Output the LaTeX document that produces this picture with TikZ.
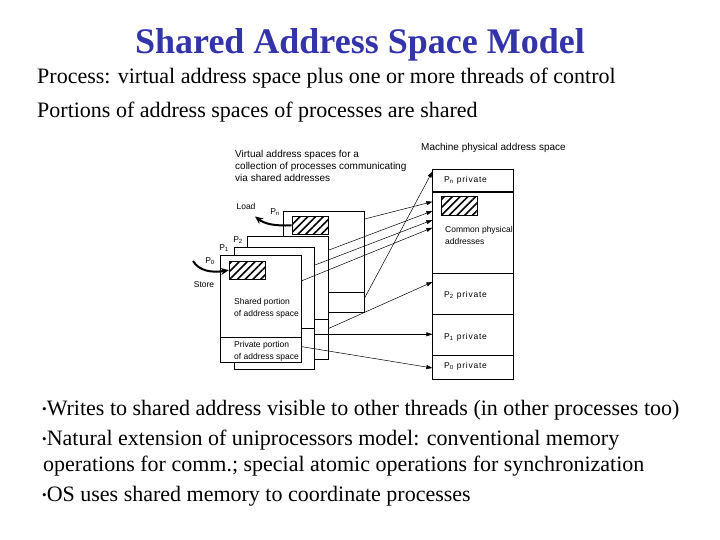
\documentclass[tikz,border=0pt]{standalone}
\usepackage{fontspec}
\setmainfont{Liberation Serif}
\newfontfamily\diagfont{Liberation Sans}
\newfontfamily\widefont[LetterSpace=9]{Liberation Sans}
\usepackage{xcolor}
\usepackage{tikz}
\usetikzlibrary{arrows.meta,positioning,fit,calc,patterns.meta}
\definecolor{titleblue}{RGB}{51,51,170}
\newcommand{\dotmark}{\raisebox{1.5pt}{\fontsize{13}{13}\selectfont\textbullet}}
\tikzset{
  vbox/.style={draw,fill=white,inner sep=0pt,line width=0.6pt},
  mbox/.style={draw,inner sep=0pt,line width=0.6pt},
  hatch/.style={draw,line width=1pt,inner sep=0pt,pattern={Lines[angle=45,distance=5.5pt,line width=1.6pt]}},
  lbl/.style={font=\diagfont\fontsize{8.5}{12}\selectfont,inner sep=0pt,align=left},
  biglbl/.style={font=\diagfont\fontsize{10}{12}\selectfont,inner sep=0pt,align=left,anchor=west},
  privlbl/.style={font=\widefont\fontsize{8.5}{12}\selectfont,inner sep=0pt,anchor=west},
  body/.style={font=\fontsize{22}{26}\selectfont,anchor=base west,inner sep=0pt},
  arr/.style={-{Triangle[length=6pt,width=4pt]},line width=0.5pt},
  bigarr/.style={-{Stealth[length=8pt,width=7pt]},line width=2pt},
}
\begin{document}
\begin{tikzpicture}[x=1pt,y=-1pt]
\useasboundingbox (0,0) rectangle (720,540);
\node[font=\bfseries\fontsize{36}{40}\selectfont,text=titleblue,anchor=base,inner sep=0pt] (title) at (360,54) {Shared Address Space Model};
\node[body] (proc) at (37,84) {Process: virtual address space plus one or more threads of control};
\node[body] (port) at (37,118) {Portions of address spaces of processes are shared};

\node[vbox,fit={(283.3,211)(364.3,312)}] (pn) {};
\draw (pn.west |- 0,292) -- (pn.east |- 0,292);
\node[hatch,fit={(292.5,216.5)(328.5,234.3)}] (pnh) {};
\node[vbox,fit={(247.7,236.5)(328.7,359)}] (p2) {};
\draw (p2.west |- 0,319.3) -- (p2.east |- 0,319.3);
\node[vbox,fit={(234.3,247)(314.7,369)}] (p1) {};
\draw (p1.west |- 0,328.3) -- (p1.east |- 0,328.3);
\node[vbox,fit={(220,255.5)(301.7,362)}] (p0) {};
\draw (p0.west |- 0,337.5) -- (p0.east |- 0,337.5);
\node[hatch,fit={(229.3,261)(265.7,279.3)}] (p0h) {};

\node[mbox,fit={(432.7,169.3)(513,191.7)}] (mpn) {};
\node[mbox,fit={(432.7,191.7)(513,273.3)}] (mcom) {};
\node[mbox,fit={(432.7,273.3)(513,314.3)}] (mp2) {};
\node[mbox,fit={(432.7,314.3)(513,355.3)}] (mp1) {};
\node[mbox,fit={(432.7,355.3)(513,379.3)}] (mp0) {};
\draw[line width=1.5pt] (mpn.south west) -- (mpn.south east);
\node[hatch,fit={(441,196.7)(477.3,216)}] (mh) {};

\node[biglbl] (vtext) at (235,166) {Virtual address spaces for a\\collection of processes communicating\\via shared addresses};
\node[biglbl] (mtext) at (421,148) {Machine physical address space};
\node[lbl] (load) at (246,206) {Load};
\node[lbl] (store) at (204,285) {Store};
\node[lbl] (lpn) at (275,212) {P\textsubscript{n}};
\node[lbl] (lp2) at (238,240) {P\textsubscript{2}};
\node[lbl] (lp1) at (224,248) {P\textsubscript{1}};
\node[lbl] (lp0) at (210,261) {P\textsubscript{0}};
\node[lbl,anchor=west] (shtext) at (234,308.5) {Shared portion\\of address space};
\node[lbl,anchor=west] (prtext) at (234,351) {Private portion\\of address space};
\node[privlbl] (mpnt) at (444,180) {P\textsubscript{n} private};
\node[lbl,anchor=west] (mcomt) at (445,235) {Common physical\\addresses};
\node[privlbl] (mp2t) at (444,295) {P\textsubscript{2} private};
\node[privlbl] (mp1t) at (444,337) {P\textsubscript{1} private};
\node[privlbl] (mp0t) at (444,366) {P\textsubscript{0} private};

\draw[arr] (pn.east |- 0,219) -- (mcom.west |- 0,201.7);
\draw[arr] (p2.east |- 0,250) -- (mcom.west |- 0,211);
\draw[arr] (p1.east |- 0,265) -- (mcom.west |- 0,220);
\draw[arr] (p0.east |- 0,280.7) -- (mcom.west |- 0,227.7);
\draw[arr] (pn.east |- 0,298) -- (mpn.west |- 0,171.5);
\draw[arr] (p2.east |- 0,328.3) -- (mp2.west |- 0,282);
\draw[arr] (p1.east |- 0,334.3) -- (mp1.west |- 0,334.3);
\draw[arr] (p0.east |- 0,346.7) -- (mp0.west |- 0,368);

\coordinate (loadend) at (255,216.5);
\coordinate (storebeg) at (193,261);
\draw[bigarr] (pnh.west) .. controls (274,226) and (265,224) .. (loadend);
\draw[bigarr] (storebeg) .. controls (199,271) and (212,273) .. (p0h.west);

\node[body] (b1) at (42,415) {\dotmark Writes to shared address visible to other threads (in other processes too)};
\node[body] (b2) at (42,445) {\dotmark Natural extension of uniprocessors model: conventional memory};
\node[body] (b2b) at (43,471) {operations for comm.; special atomic operations for synchronization};
\node[body] (b3) at (42,501) {\dotmark OS uses shared memory to coordinate processes};
\end{tikzpicture}
\end{document}
